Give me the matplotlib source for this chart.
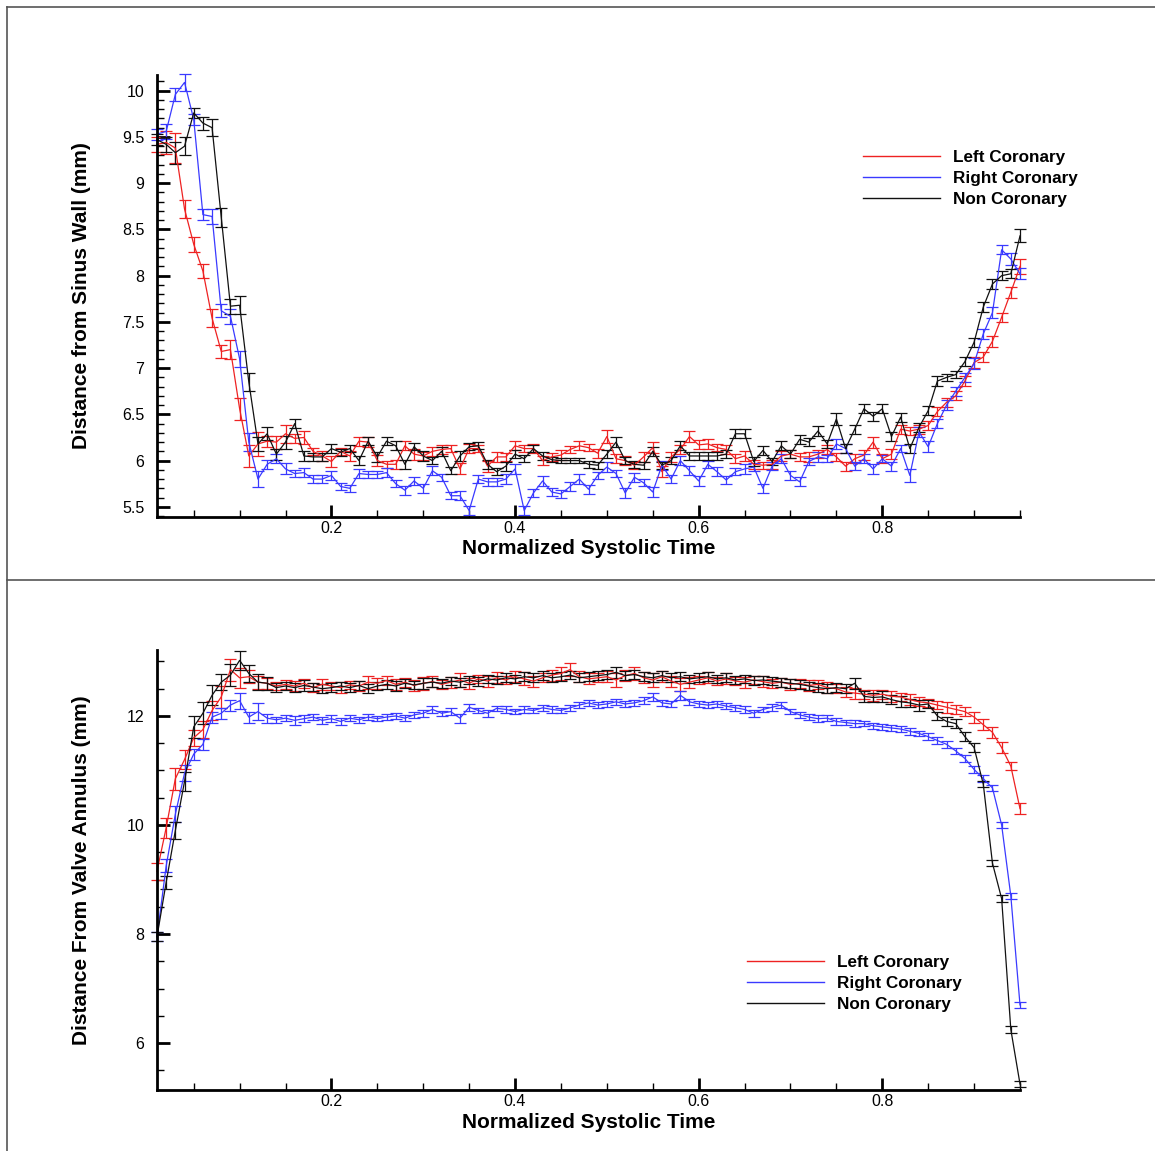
import numpy as np
import matplotlib
matplotlib.use("Agg")
import matplotlib.pyplot as plt
from matplotlib.lines import Line2D
from matplotlib.ticker import MultipleLocator

plt.rcParams['font.family'] = ['Liberation Sans', 'DejaVu Sans']

# normalized systolic time, 0.01 .. 0.95
t = np.round(np.arange(1, 96) * 0.01, 2)

labels = ["Left Coronary", "Right Coronary", "Non Coronary"]
colors = ["#ee2222", "#3a3aff", "#111111"]

# ---- top panel: distance from sinus wall (mm)
sinus_left = [9.42, 9.44, 9.38, 8.72, 8.34, 8.05, 7.54, 7.18, 7.2, 6.56,
              6.05, 6.18, 6.21, 6.2, 6.29, 6.24, 6.25, 6.1, 6.05, 5.99,
              6.1, 6.05, 6.21, 6.2, 6.0, 5.96, 5.96, 6.16, 6.07, 6.05,
              6.1, 6.12, 6.13, 5.91, 6.13, 6.13, 5.94, 6.04, 6.04, 6.16,
              6.13, 6.13, 6.0, 6.04, 6.06, 6.12, 6.16, 6.14, 6.08, 6.26,
              6.02, 6.0, 5.95, 6.04, 6.14, 5.88, 6.04, 6.12, 6.26, 6.17,
              6.18, 6.14, 6.12, 6.02, 6.05, 5.96, 5.95, 5.96, 6.05, 6.07,
              6.04, 6.04, 6.07, 6.12, 6.04, 5.94, 6.02, 6.06, 6.2, 6.02,
              6.07, 6.34, 6.32, 6.34, 6.38, 6.53, 6.63, 6.7, 6.86, 7.06,
              7.12, 7.29, 7.55, 7.82, 8.1]
sinus_right = [9.53, 9.56, 9.96, 10.09, 9.69, 8.66, 8.64, 7.62, 7.56, 7.1,
               6.2, 5.8, 5.96, 6.02, 5.91, 5.86, 5.87, 5.8, 5.8, 5.84,
               5.72, 5.7, 5.86, 5.85, 5.85, 5.87, 5.75, 5.68, 5.78, 5.7,
               5.89, 5.82, 5.62, 5.62, 5.46, 5.8, 5.77, 5.77, 5.8, 5.91,
               5.46, 5.65, 5.78, 5.66, 5.64, 5.72, 5.8, 5.69, 5.84, 5.93,
               5.86, 5.65, 5.82, 5.76, 5.66, 5.95, 5.8, 6.0, 5.89, 5.78,
               5.96, 5.88, 5.79, 5.88, 5.91, 5.93, 5.7, 5.94, 6.02, 5.84,
               5.77, 5.99, 6.04, 6.02, 6.18, 6.13, 5.94, 6.02, 5.91, 6.02,
               5.94, 6.13, 5.84, 6.31, 6.15, 6.4, 6.6, 6.75, 6.9, 7.05,
               7.37, 7.6, 8.28, 8.18, 8.02]
sinus_non = [9.47, 9.42, 9.33, 9.4, 9.76, 9.65, 9.6, 8.63, 7.67, 7.68,
             6.85, 6.18, 6.29, 6.07, 6.2, 6.4, 6.05, 6.04, 6.04, 6.13,
             6.09, 6.13, 6.0, 6.21, 6.04, 6.21, 6.16, 5.96, 6.15, 6.05,
             6.0, 6.1, 5.89, 6.05, 6.15, 6.16, 5.96, 5.88, 5.94, 6.07,
             6.02, 6.13, 6.05, 6.01, 6.0, 6.0, 6.0, 5.96, 5.95, 6.07,
             6.2, 6.0, 5.96, 5.95, 6.1, 5.95, 6.0, 6.16, 6.05, 6.05,
             6.05, 6.05, 6.07, 6.29, 6.29, 5.99, 6.11, 5.99, 6.16, 6.07,
             6.23, 6.2, 6.32, 6.18, 6.45, 6.13, 6.34, 6.56, 6.48, 6.56,
             6.26, 6.47, 6.13, 6.36, 6.54, 6.86, 6.9, 6.93, 7.07, 7.28,
             7.66, 7.91, 8.0, 8.02, 8.43]

sinus_left_err = [0.08, 0.12, 0.16, 0.1, 0.08, 0.08, 0.1, 0.07, 0.1, 0.12,
                  0.12, 0.13, 0.06, 0.07, 0.1, 0.05, 0.07, 0.04, 0.05, 0.06,
                  0.04, 0.05, 0.05, 0.05, 0.06, 0.04, 0.05, 0.05, 0.06, 0.04,
                  0.05, 0.05, 0.04, 0.06, 0.05, 0.04, 0.06, 0.05, 0.04, 0.05,
                  0.04, 0.05, 0.05, 0.04, 0.05, 0.04, 0.05, 0.04, 0.05, 0.07,
                  0.05, 0.05, 0.04, 0.05, 0.06, 0.06, 0.05, 0.05, 0.06, 0.05,
                  0.05, 0.04, 0.05, 0.05, 0.05, 0.05, 0.04, 0.05, 0.05, 0.04,
                  0.04, 0.05, 0.04, 0.05, 0.04, 0.05, 0.05, 0.05, 0.06, 0.05,
                  0.05, 0.05, 0.04, 0.05, 0.05, 0.05, 0.05, 0.05, 0.05, 0.06,
                  0.05, 0.06, 0.05, 0.06, 0.08]
sinus_right_err = [0.06, 0.08, 0.07, 0.09, 0.06, 0.06, 0.08, 0.07, 0.08, 0.09,
                   0.1, 0.09, 0.05, 0.05, 0.06, 0.04, 0.05, 0.04, 0.04, 0.05,
                   0.04, 0.04, 0.05, 0.04, 0.04, 0.05, 0.04, 0.05, 0.04, 0.05,
                   0.05, 0.04, 0.04, 0.05, 0.05, 0.04, 0.04, 0.04, 0.05, 0.05,
                   0.05, 0.04, 0.05, 0.04, 0.04, 0.05, 0.05, 0.05, 0.04, 0.05,
                   0.04, 0.05, 0.05, 0.04, 0.05, 0.05, 0.04, 0.05, 0.05, 0.05,
                   0.04, 0.05, 0.04, 0.04, 0.05, 0.04, 0.05, 0.04, 0.05, 0.05,
                   0.05, 0.04, 0.05, 0.04, 0.05, 0.05, 0.04, 0.05, 0.05, 0.04,
                   0.05, 0.04, 0.07, 0.05, 0.06, 0.05, 0.05, 0.05, 0.05, 0.06,
                   0.05, 0.06, 0.05, 0.06, 0.06]
sinus_non_err = [0.06, 0.08, 0.12, 0.1, 0.05, 0.07, 0.09, 0.1, 0.08, 0.1,
                 0.1, 0.08, 0.07, 0.06, 0.07, 0.05, 0.05, 0.04, 0.04, 0.05,
                 0.04, 0.04, 0.05, 0.04, 0.05, 0.04, 0.05, 0.05, 0.04, 0.05,
                 0.04, 0.05, 0.04, 0.05, 0.04, 0.04, 0.05, 0.04, 0.05, 0.04,
                 0.04, 0.04, 0.04, 0.03, 0.03, 0.03, 0.03, 0.04, 0.04, 0.04,
                 0.05, 0.04, 0.04, 0.04, 0.05, 0.04, 0.04, 0.05, 0.04, 0.04,
                 0.04, 0.04, 0.04, 0.05, 0.05, 0.05, 0.05, 0.04, 0.05, 0.04,
                 0.05, 0.04, 0.05, 0.04, 0.06, 0.05, 0.05, 0.05, 0.05, 0.05,
                 0.05, 0.05, 0.05, 0.05, 0.05, 0.05, 0.04, 0.04, 0.05, 0.05,
                 0.05, 0.05, 0.05, 0.05, 0.07]

# ---- bottom panel: distance from valve annulus (mm)
annulus_left = [9.15, 9.95, 10.85, 11.2, 11.6, 11.75, 12.1, 12.35, 12.85, 12.7,
                12.72, 12.62, 12.6, 12.55, 12.58, 12.55, 12.6, 12.52, 12.58, 12.55,
                12.52, 12.57, 12.55, 12.62, 12.6, 12.65, 12.58, 12.62, 12.56, 12.6,
                12.63, 12.58, 12.62, 12.66, 12.6, 12.68, 12.64, 12.7, 12.66, 12.72,
                12.68, 12.64, 12.7, 12.75, 12.78, 12.85, 12.72, 12.68, 12.7, 12.72,
                12.66, 12.74, 12.78, 12.7, 12.66, 12.72, 12.64, 12.58, 12.62, 12.66,
                12.7, 12.64, 12.68, 12.64, 12.62, 12.66, 12.63, 12.6, 12.62, 12.58,
                12.6, 12.56, 12.58, 12.52, 12.5, 12.44, 12.42, 12.4, 12.38, 12.4,
                12.36, 12.35, 12.3, 12.26, 12.24, 12.2, 12.16, 12.12, 12.08, 11.98,
                11.84, 11.7, 11.42, 11.08, 10.3]
annulus_right = [7.95, 9.25, 10.2, 10.95, 11.3, 11.48, 11.98, 12.05, 12.2, 12.28,
                 11.98, 12.08, 11.96, 11.93, 11.96, 11.92, 11.95, 11.98, 11.92, 11.95,
                 11.9, 11.96, 11.93, 11.98, 11.95, 11.98, 12.0, 11.96, 12.02, 12.05,
                 12.12, 12.05, 12.08, 11.96, 12.16, 12.1, 12.05, 12.14, 12.12, 12.08,
                 12.12, 12.1, 12.15, 12.12, 12.1, 12.15, 12.2, 12.24, 12.2, 12.22,
                 12.26, 12.22, 12.24, 12.28, 12.35, 12.24, 12.22, 12.38, 12.26, 12.22,
                 12.2, 12.22, 12.18, 12.15, 12.12, 12.05, 12.12, 12.16, 12.2, 12.08,
                 12.02, 11.98, 11.95, 11.96, 11.9, 11.88, 11.86, 11.86, 11.82, 11.8,
                 11.78, 11.76, 11.72, 11.68, 11.62, 11.55, 11.48, 11.36, 11.22, 11.02,
                 10.85, 10.68, 10.0, 8.7, 6.7]
annulus_non = [7.95, 8.95, 9.9, 10.8, 11.8, 12.05, 12.38, 12.62, 12.75, 13.02,
               12.78, 12.62, 12.6, 12.52, 12.55, 12.52, 12.56, 12.53, 12.5, 12.52,
               12.55, 12.52, 12.56, 12.5, 12.55, 12.58, 12.55, 12.6, 12.57, 12.6,
               12.62, 12.6, 12.64, 12.62, 12.66, 12.63, 12.68, 12.66, 12.7, 12.68,
               12.72, 12.7, 12.74, 12.7, 12.72, 12.75, 12.7, 12.72, 12.74, 12.76,
               12.8, 12.74, 12.76, 12.72, 12.7, 12.74, 12.7, 12.72, 12.68, 12.7,
               12.72, 12.68, 12.7, 12.66, 12.68, 12.65, 12.66, 12.64, 12.62, 12.6,
               12.58, 12.55, 12.52, 12.5, 12.52, 12.5, 12.6, 12.36, 12.34, 12.35,
               12.3, 12.26, 12.24, 12.2, 12.22, 12.0, 11.9, 11.86, 11.62, 11.42,
               10.75, 9.3, 8.65, 6.25, 5.25]

annulus_left_err = [0.15, 0.18, 0.2, 0.18, 0.15, 0.15, 0.18, 0.2, 0.2, 0.18,
                    0.12, 0.12, 0.1, 0.08, 0.08, 0.1, 0.08, 0.08, 0.1, 0.08,
                    0.1, 0.08, 0.1, 0.12, 0.1, 0.08, 0.1, 0.08, 0.1, 0.12,
                    0.1, 0.08, 0.1, 0.12, 0.1, 0.08, 0.1, 0.1, 0.08, 0.1,
                    0.12, 0.1, 0.08, 0.1, 0.12, 0.12, 0.1, 0.1, 0.08, 0.1,
                    0.12, 0.1, 0.12, 0.1, 0.12, 0.1, 0.1, 0.12, 0.1, 0.08,
                    0.1, 0.08, 0.1, 0.08, 0.1, 0.08, 0.1, 0.08, 0.08, 0.1,
                    0.08, 0.1, 0.08, 0.1, 0.08, 0.1, 0.1, 0.08, 0.1, 0.08,
                    0.1, 0.08, 0.1, 0.08, 0.08, 0.08, 0.1, 0.08, 0.08, 0.1,
                    0.1, 0.1, 0.1, 0.08, 0.1]
annulus_right_err = [0.08, 0.12, 0.15, 0.15, 0.1, 0.1, 0.1, 0.1, 0.1, 0.15,
                     0.1, 0.15, 0.08, 0.06, 0.06, 0.08, 0.06, 0.06, 0.06, 0.06,
                     0.06, 0.05, 0.06, 0.06, 0.05, 0.06, 0.06, 0.05, 0.06, 0.06,
                     0.06, 0.05, 0.06, 0.08, 0.06, 0.05, 0.06, 0.05, 0.06, 0.05,
                     0.06, 0.05, 0.06, 0.06, 0.05, 0.06, 0.06, 0.05, 0.06, 0.06,
                     0.06, 0.05, 0.06, 0.06, 0.08, 0.06, 0.05, 0.08, 0.06, 0.06,
                     0.05, 0.06, 0.06, 0.05, 0.06, 0.06, 0.05, 0.06, 0.06, 0.05,
                     0.06, 0.05, 0.06, 0.05, 0.06, 0.05, 0.06, 0.05, 0.06, 0.05,
                     0.06, 0.05, 0.06, 0.05, 0.06, 0.06, 0.06, 0.05, 0.06, 0.06,
                     0.06, 0.06, 0.06, 0.06, 0.06]
annulus_non_err = [0.08, 0.12, 0.15, 0.18, 0.2, 0.2, 0.18, 0.15, 0.2, 0.18,
                   0.15, 0.15, 0.12, 0.08, 0.08, 0.08, 0.1, 0.08, 0.08, 0.08,
                   0.08, 0.08, 0.08, 0.08, 0.08, 0.08, 0.1, 0.08, 0.08, 0.1,
                   0.08, 0.08, 0.08, 0.08, 0.08, 0.08, 0.08, 0.08, 0.08, 0.08,
                   0.08, 0.08, 0.08, 0.08, 0.08, 0.08, 0.08, 0.08, 0.08, 0.08,
                   0.1, 0.08, 0.08, 0.08, 0.08, 0.08, 0.08, 0.08, 0.08, 0.08,
                   0.08, 0.08, 0.08, 0.08, 0.08, 0.08, 0.08, 0.08, 0.08, 0.08,
                   0.08, 0.08, 0.08, 0.08, 0.08, 0.08, 0.1, 0.1, 0.08, 0.1,
                   0.08, 0.1, 0.08, 0.1, 0.08, 0.08, 0.08, 0.08, 0.08, 0.08,
                   0.06, 0.06, 0.06, 0.06, 0.06]

W, H = 1155, 1151
fig = plt.figure(figsize=(W / 100, H / 100), dpi=100)

# panel frames (grey boxes)
frame = dict(color="#555555", lw=1.2, transform=fig.transFigure)
fig.add_artist(Line2D([7 / W, 1], [1 - 7 / H, 1 - 7 / H], **frame))
fig.add_artist(Line2D([7 / W, 7 / W], [0, 1 - 7 / H], **frame))
fig.add_artist(Line2D([7 / W, 1], [1 - 580 / H, 1 - 580 / H], **frame))


def style_axes(ax, ylo, yhi, ymaj, ymin, ylabel, xlabel_y):
    ax.set_xlim(0.01, 0.95)
    ax.set_ylim(ylo, yhi)
    for s in ["top", "right"]:
        ax.spines[s].set_visible(False)
    for s in ["left", "bottom"]:
        ax.spines[s].set_linewidth(2)
    ax.xaxis.set_major_locator(MultipleLocator(0.2))
    ax.xaxis.set_minor_locator(MultipleLocator(0.05))
    ax.yaxis.set_major_locator(MultipleLocator(ymaj))
    ax.yaxis.set_minor_locator(MultipleLocator(ymin))
    ax.tick_params(which="major", direction="in", length=9, width=2, labelsize=11.5)
    ax.tick_params(which="minor", direction="in", length=5, width=1)
    ax.tick_params(axis="y", which="major", pad=9)
    ax.tick_params(axis="x", which="major", pad=3)
    ax.xaxis.set_major_formatter(plt.FuncFormatter(lambda v, p: "" if v < 0.1 else f"{v:g}"))
    ax.yaxis.set_major_formatter(plt.FuncFormatter(lambda v, p: f"{v:g}"))
    ax.set_xlabel("Normalized Systolic Time", fontsize=15, fontweight="bold")
    ax.set_ylabel(ylabel, fontsize=15, fontweight="bold")
    ax.xaxis.set_label_coords(0.5, xlabel_y)
    ax.yaxis.set_label_coords(-0.077, 0.5)


def draw(ax, series, errs):
    for y, e, c in zip(series, errs, colors):
        ax.errorbar(t, y, yerr=e, color=c, lw=0.9, elinewidth=0.9,
                    capsize=4, capthick=0.9, clip_on=False)


ax1 = fig.add_axes([157 / W, 1 - 517 / H, 863 / W, 442 / H])
draw(ax1, [sinus_left, sinus_right, sinus_non],
     [sinus_left_err, sinus_right_err, sinus_non_err])
style_axes(ax1, 5.39, 10.17, 0.5, 0.1, "Distance from Sinus Wall (mm)", -0.05)

ax2 = fig.add_axes([157 / W, 1 - 1090 / H, 863 / W, 440 / H])
draw(ax2, [annulus_left, annulus_right, annulus_non],
     [annulus_left_err, annulus_right_err, annulus_non_err])
style_axes(ax2, 5.14, 13.21, 2, 0.5, "Distance From Valve Annulus (mm)", -0.052)

handles = [Line2D([], [], color=c, lw=1) for c in colors]
leg_kw = dict(frameon=False, handlelength=4.5, handletextpad=0.76,
              labelspacing=0.36, borderpad=0, borderaxespad=0, loc="upper left",
              prop={"weight": "bold", "size": 12.3})
fig.legend(handles, labels, bbox_to_anchor=(863 / W, 1 - 150 / H), **leg_kw)
fig.legend(handles, labels, bbox_to_anchor=(747 / W, 1 - 955 / H), **leg_kw)

fig.savefig("out.png", dpi=100)
